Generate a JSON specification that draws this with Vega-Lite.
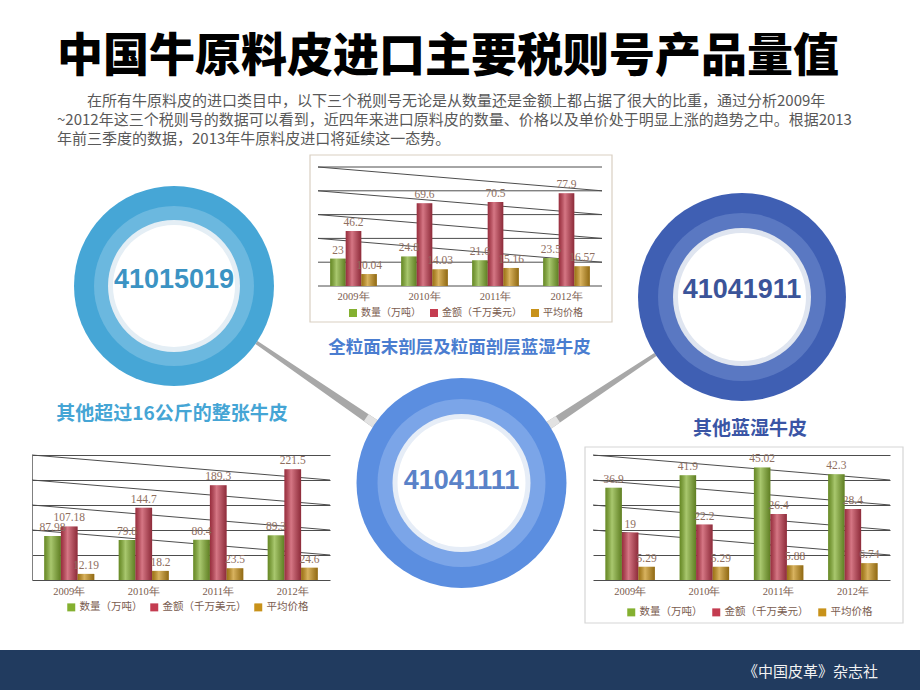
{
  "$schema": "https://vega.github.io/schema/vega-lite/v6.json",
  "background": "white",
  "padding": {"left": 0, "top": 34, "right": 0, "bottom": 0},
  "autosize": {"type": "pad"},
  "config": {
    "view": {"stroke": null},
    "font": "Noto Sans CJK SC"
  },
  "title": {
    "text": "中国牛原料皮进口主要税则号产品量值",
    "subtitle": [
      "\u200b\u3000\u3000在所有牛原料皮的进口类目中，以下三个税则号无论是从数量还是金额上都占据了很大的比重，通过分析2009年",
      "~2012年这三个税则号的数据可以看到，近四年来进口原料皮的数量、价格以及单价处于明显上涨的趋势之中。根据2013",
      "年前三季度的数据，2013年牛原料皮进口将延续这一态势。"
    ],
    "anchor": "start",
    "frame": "group",
    "dx": 57,
    "offset": 6,
    "font": "Noto Sans CJK SC",
    "fontSize": 46,
    "fontWeight": 900,
    "color": "#000000",
    "subtitleFont": "Noto Sans CJK SC",
    "subtitleFontSize": 15,
    "subtitleColor": "#595959",
    "subtitleLineHeight": 19,
    "subtitlePadding": 13
  },
  "datasets": {
    "top": [
      {"year": "2009年", "series": "数量（万吨）", "value": 23},
      {"year": "2009年", "series": "金额（千万美元）", "value": 46.2},
      {"year": "2009年", "series": "平均价格", "value": 10.04},
      {"year": "2010年", "series": "数量（万吨）", "value": 24.8},
      {"year": "2010年", "series": "金额（千万美元）", "value": 69.6},
      {"year": "2010年", "series": "平均价格", "value": 14.03},
      {"year": "2011年", "series": "数量（万吨）", "value": 21.6},
      {"year": "2011年", "series": "金额（千万美元）", "value": 70.5},
      {"year": "2011年", "series": "平均价格", "value": 15.16},
      {"year": "2012年", "series": "数量（万吨）", "value": 23.5},
      {"year": "2012年", "series": "金额（千万美元）", "value": 77.9},
      {"year": "2012年", "series": "平均价格", "value": 16.57}
    ],
    "left": [
      {"year": "2009年", "series": "数量（万吨）", "value": 87.98},
      {"year": "2009年", "series": "金额（千万美元）", "value": 107.18},
      {"year": "2009年", "series": "平均价格", "value": 12.19},
      {"year": "2010年", "series": "数量（万吨）", "value": 79.8},
      {"year": "2010年", "series": "金额（千万美元）", "value": 144.7},
      {"year": "2010年", "series": "平均价格", "value": 18.2},
      {"year": "2011年", "series": "数量（万吨）", "value": 80.4},
      {"year": "2011年", "series": "金额（千万美元）", "value": 189.3},
      {"year": "2011年", "series": "平均价格", "value": 23.5},
      {"year": "2012年", "series": "数量（万吨）", "value": 89.3},
      {"year": "2012年", "series": "金额（千万美元）", "value": 221.5},
      {"year": "2012年", "series": "平均价格", "value": 24.6}
    ],
    "right": [
      {"year": "2009年", "series": "数量（万吨）", "value": 36.9},
      {"year": "2009年", "series": "金额（千万美元）", "value": 19},
      {"year": "2009年", "series": "平均价格", "value": 5.29},
      {"year": "2010年", "series": "数量（万吨）", "value": 41.9},
      {"year": "2010年", "series": "金额（千万美元）", "value": 22.2},
      {"year": "2010年", "series": "平均价格", "value": 5.29},
      {"year": "2011年", "series": "数量（万吨）", "value": 45.02},
      {"year": "2011年", "series": "金额（千万美元）", "value": 26.4},
      {"year": "2011年", "series": "平均价格", "value": 5.88},
      {"year": "2012年", "series": "数量（万吨）", "value": 42.3},
      {"year": "2012年", "series": "金额（千万美元）", "value": 28.4},
      {"year": "2012年", "series": "平均价格", "value": 6.74}
    ],
    "diagTop": [
      {"end": "起", "v": 0, "k": "g0"}, {"end": "止", "v": 0, "k": "g0"},
      {"end": "起", "v": 20, "k": "g1"}, {"end": "止", "v": 20, "k": "g1"},
      {"end": "起", "v": 40, "k": "g2"}, {"end": "止", "v": 40, "k": "g2"},
      {"end": "起", "v": 60, "k": "g3"}, {"end": "止", "v": 60, "k": "g3"},
      {"end": "起", "v": 80, "k": "g4"}, {"end": "止", "v": 80, "k": "g4"},
      {"end": "起", "v": 100, "k": "g5"}, {"end": "止", "v": 100, "k": "g5"},
      {"end": "起", "v": 100, "k": "d1"}, {"end": "止", "v": 80, "k": "d1"},
      {"end": "起", "v": 80, "k": "d2"}, {"end": "止", "v": 60, "k": "d2"},
      {"end": "起", "v": 60, "k": "d3"}, {"end": "止", "v": 40, "k": "d3"},
      {"end": "起", "v": 40, "k": "d4"}, {"end": "止", "v": 20, "k": "d4"}
    ],
    "diagLeft": [
      {"end": "起", "v": 250, "k": "d1"}, {"end": "止", "v": 200, "k": "d1"},
      {"end": "起", "v": 200, "k": "d2"}, {"end": "止", "v": 150, "k": "d2"},
      {"end": "起", "v": 150, "k": "d3"}, {"end": "止", "v": 100, "k": "d3"},
      {"end": "起", "v": 100, "k": "d4"}, {"end": "止", "v": 50, "k": "d4"}
    ],
    "diagRight": [
      {"end": "起", "v": 50, "k": "d1"}, {"end": "止", "v": 40, "k": "d1"},
      {"end": "起", "v": 40, "k": "d2"}, {"end": "止", "v": 30, "k": "d2"},
      {"end": "起", "v": 30, "k": "d3"}, {"end": "止", "v": 20, "k": "d3"},
      {"end": "起", "v": 20, "k": "d4"}, {"end": "止", "v": 10, "k": "d4"}
    ]
  },
  "columns": 5,
  "align": "each",
  "bounds": "flush",
  "spacing": {"row": 28, "column": 0},
  "resolve": {"scale": {"color": "independent", "xOffset": "independent"}, "legend": {"color": "independent"}},
  "concat": [
    {"width": 32, "height": 10, "data": {"values": []}, "mark": "point"},
    {
      "width": 284, "height": 238,
      "data": {"values": [{"code": "41015019", "name": "其他超过16公斤的整张牛皮"}]},
      "layer": [
        {"mark": {"type": "arc", "theta": 2.154, "theta2": 2.189, "radius": 244, "radius2": 100, "color": "#a8a8a8"}, "encoding": {}},
        {"mark": {"type": "arc", "theta": 2.154, "theta2": 2.189, "radius": 244, "radius2": 233, "color": "#e2e2e2"}, "encoding": {}},
        {"mark": {"type": "arc", "theta": 0, "theta2": 6.2832, "radius": 100, "color": "#46a6d6"}, "encoding": {}},
        {"mark": {"type": "arc", "theta": 0, "theta2": 6.2832, "radius": 80, "color": "#6bb8df"}, "encoding": {}},
        {"mark": {"type": "arc", "theta": 0, "theta2": 6.2832, "radius": 66, "color": "#e4eef5"}, "encoding": {}},
        {"mark": {"type": "arc", "theta": 0, "theta2": 6.2832, "radius": 61, "color": "#ffffff"}, "encoding": {}},
        {"mark": {"type": "text", "font": "Liberation Sans", "fontSize": 27, "fontWeight": "bold", "color": "#3b93c3", "dy": -6}, "encoding": {"text": {"field": "code"}}},
        {"mark": {"type": "text", "font": "Noto Sans CJK SC", "fontSize": 19, "fontWeight": "bold", "color": "#45a5d5", "dx": -2, "dy": 128, "baseline": "middle"}, "encoding": {"text": {"field": "name"}}}
      ]
    },
    {
      "width": 263, "height": 119,
      "resolve": {"scale": {"x": "independent"}},
      "layer": [
        {
          "data": {"values": [{"a": "起", "b": "止"}]},
          "mark": {"type": "rect", "filled": false, "stroke": "#d9cfc2", "strokeWidth": 1.2, "xOffset": -8, "x2Offset": 10, "yOffset": -12, "y2Offset": 36},
          "encoding": {
            "x": {"field": "a", "type": "nominal", "scale": {"type": "point", "padding": 0, "domain": ["起", "止"], "range": [-12, 272]}, "axis": null},
            "x2": {"field": "b"},
            "y": {"datum": 100, "type": "quantitative", "scale": {"domain": [0, 100]}, "axis": null},
            "y2": {"datum": 0}
          }
        },
        {
          "data": {"name": "diagTop"},
          "mark": {"type": "line", "color": "#4d4d4d", "strokeWidth": 1},
          "encoding": {
            "x": {"field": "end", "type": "nominal", "scale": {"type": "point", "padding": 0, "domain": ["起", "止"], "range": [-12, 272]}, "axis": null},
            "y": {"field": "v", "type": "quantitative", "scale": {"domain": [0, 100]}, "axis": null},
            "detail": {"field": "k", "type": "nominal"}
          }
        },
        {
          "data": {"name": "top"},
          "encoding": {
            "x": {"field": "year", "type": "nominal", "title": null, "scale": {"paddingInner": 0, "paddingOuter": 0, "range": [-12, 272]},
              "axis": {"labelAngle": 0, "ticks": false, "tickSize": 0, "domain": false, "grid": false, "labelPadding": 5, "labelFontSize": 10.5, "labelColor": "#7a5c4f", "labelFont": "Liberation Serif"}},
            "xOffset": {"field": "series", "type": "nominal", "sort": ["数量（万吨）", "金额（千万美元）", "平均价格"], "scale": {"paddingInner": 0, "paddingOuter": 0.78}},
            "y": {"field": "value", "type": "quantitative", "scale": {"domain": [0, 100]}, "axis": null}
          },
          "layer": [
            {
              "mark": {"type": "bar"},
              "encoding": {
                "color": {"field": "series", "type": "nominal", "sort": ["数量（万吨）", "金额（千万美元）", "平均价格"],
                  "scale": {"domain": ["数量（万吨）", "金额（千万美元）", "平均价格"], "range": ["#84b030", "#c43c50", "#c8921a"]},
                  "legend": {"title": null, "orient": "none", "legendX": 18, "legendY": 141, "direction": "horizontal", "symbolType": "square", "symbolSize": 64, "labelFontSize": 10, "labelColor": "#7a5c4f", "labelFont": "Noto Sans CJK SC", "columnPadding": 8, "labelOffset": 3}}
              }
            },
            {
              "mark": {"type": "bar", "color": {"gradient": "linear", "x1": 0, "x2": 1, "y1": 0, "y2": 0,
                "stops": [{"offset": 0, "color": "rgba(0,0,0,0.22)"}, {"offset": 0.4, "color": "rgba(255,255,255,0.3)"}, {"offset": 1, "color": "rgba(0,0,0,0.28)"}]}}
            },
            {
              "mark": {"type": "text", "baseline": "bottom", "dy": -3, "fontSize": 11.5, "font": "Liberation Serif", "color": "#8e6e60"},
              "encoding": {"text": {"field": "value", "type": "nominal"}}
            }
          ]
        },
        {
          "data": {"values": [{"name": "全粒面末剖层及粒面剖层蓝湿牛皮"}]},
          "mark": {"type": "text", "font": "Noto Sans CJK SC", "fontSize": 17.5, "fontWeight": "bold", "color": "#4a7dd0", "dx": -2, "dy": 121, "baseline": "middle"},
          "encoding": {"text": {"field": "name"}}
        }
      ]
    },
    {
      "width": 298, "height": 260,
      "data": {"values": [{"code": "41041911", "name": "其他蓝湿牛皮"}]},
      "layer": [
        {"mark": {"type": "arc", "theta": 4.109, "theta2": 4.144, "radius": 232, "radius2": 104, "color": "#a8a8a8"}, "encoding": {}},
        {"mark": {"type": "arc", "theta": 4.109, "theta2": 4.144, "radius": 232, "radius2": 221, "color": "#e2e2e2"}, "encoding": {}},
        {"mark": {"type": "arc", "theta": 0, "theta2": 6.2832, "radius": 104, "color": "#3f5fb3"}, "encoding": {}},
        {"mark": {"type": "arc", "theta": 0, "theta2": 6.2832, "radius": 84, "color": "#5a78c2"}, "encoding": {}},
        {"mark": {"type": "arc", "theta": 0, "theta2": 6.2832, "radius": 69, "color": "#dfe5f0"}, "encoding": {}},
        {"mark": {"type": "arc", "theta": 0, "theta2": 6.2832, "radius": 64, "color": "#ffffff"}, "encoding": {}},
        {"mark": {"type": "text", "font": "Liberation Sans", "fontSize": 27, "fontWeight": "bold", "color": "#3b5499", "dy": -7}, "encoding": {"text": {"field": "code"}}},
        {"mark": {"type": "text", "font": "Noto Sans CJK SC", "fontSize": 19, "fontWeight": "bold", "color": "#3a55a5", "dx": 8, "dy": 132, "baseline": "middle"}, "encoding": {"text": {"field": "name"}}}
      ]
    },
    {"width": 28, "height": 10, "data": {"values": []}, "mark": "point"},
    {"width": 32, "height": 10, "data": {"values": []}, "mark": "point"},
    {
      "width": 298, "height": 125,
      "resolve": {"scale": {"x": "independent"}, "axis": {"y": "independent"}},
      "layer": [
        {
          "data": {"name": "diagLeft"},
          "mark": {"type": "line", "color": "#4d4d4d", "strokeWidth": 1},
          "encoding": {
            "x": {"field": "end", "type": "nominal", "scale": {"type": "point", "padding": 0, "domain": ["起", "止"]}, "axis": null},
            "y": {"field": "v", "type": "quantitative", "scale": {"domain": [0, 250]}, "axis": null},
            "detail": {"field": "k", "type": "nominal"}
          }
        },
        {
          "data": {"name": "left"},
          "encoding": {
            "x": {"field": "year", "type": "nominal", "title": null, "scale": {"paddingInner": 0, "paddingOuter": 0},
              "axis": {"labelAngle": 0, "ticks": false, "tickSize": 0, "domain": false, "grid": false, "labelPadding": 6, "labelFontSize": 10.5, "labelColor": "#7a5c4f", "labelFont": "Liberation Serif"}},
            "xOffset": {"field": "series", "type": "nominal", "sort": ["数量（万吨）", "金额（千万美元）", "平均价格"], "scale": {"paddingInner": 0, "paddingOuter": 0.73}},
            "y": {"field": "value", "type": "quantitative", "scale": {"domain": [0, 250]},
              "axis": {"title": null, "grid": true, "gridColor": "#4d4d4d", "gridWidth": 1, "labels": false, "ticks": false, "domain": true, "domainColor": "#808080", "values": [0, 50, 100, 150, 200, 250]}}
          },
          "layer": [
            {
              "mark": {"type": "bar"},
              "encoding": {
                "color": {"field": "series", "type": "nominal", "sort": ["数量（万吨）", "金额（千万美元）", "平均价格"],
                  "scale": {"domain": ["数量（万吨）", "金额（千万美元）", "平均价格"], "range": ["#84b030", "#c43c50", "#c8921a"]},
                  "legend": {"title": null, "orient": "none", "legendX": 34, "legendY": 147, "direction": "horizontal", "symbolType": "square", "symbolSize": 64, "labelFontSize": 10.5, "labelColor": "#7a5c4f", "labelFont": "Noto Sans CJK SC", "columnPadding": 6, "labelOffset": 3}}
              }
            },
            {
              "mark": {"type": "bar", "color": {"gradient": "linear", "x1": 0, "x2": 1, "y1": 0, "y2": 0,
                "stops": [{"offset": 0, "color": "rgba(0,0,0,0.22)"}, {"offset": 0.4, "color": "rgba(255,255,255,0.3)"}, {"offset": 1, "color": "rgba(0,0,0,0.28)"}]}}
            },
            {
              "mark": {"type": "text", "baseline": "bottom", "dy": -3, "fontSize": 11.5, "font": "Liberation Serif", "color": "#8e6e60"},
              "encoding": {"text": {"field": "value", "type": "nominal"}}
            }
          ]
        }
      ]
    },
    {
      "width": 263, "height": 167,
      "data": {"values": [{"code": "41041111"}]},
      "layer": [
        {"mark": {"type": "arc", "theta": 0, "theta2": 6.2832, "radius": 105, "color": "#5b8ee0", "yOffset": -55.5}, "encoding": {}},
        {"mark": {"type": "arc", "theta": 0, "theta2": 6.2832, "radius": 84, "color": "#7ba5e8", "yOffset": -55.5}, "encoding": {}},
        {"mark": {"type": "arc", "theta": 0, "theta2": 6.2832, "radius": 69, "color": "#e6edf7", "yOffset": -55.5}, "encoding": {}},
        {"mark": {"type": "arc", "theta": 0, "theta2": 6.2832, "radius": 64, "color": "#ffffff", "yOffset": -55.5}, "encoding": {}},
        {"mark": {"type": "text", "font": "Liberation Sans", "fontSize": 27, "fontWeight": "bold", "color": "#5a82c8", "dy": -58}, "encoding": {"text": {"field": "code"}}}
      ]
    },
    {
      "width": 297, "height": 125,
      "resolve": {"scale": {"x": "independent"}, "axis": {"y": "independent"}},
      "layer": [
        {
          "data": {"values": [{"a": "起", "b": "止"}]},
          "mark": {"type": "rect", "filled": false, "stroke": "#d6d6d6", "strokeWidth": 1.2, "xOffset": -8, "x2Offset": 13, "yOffset": -8, "y2Offset": 43},
          "encoding": {
            "x": {"field": "a", "type": "nominal", "scale": {"type": "point", "padding": 0, "domain": ["起", "止"]}, "axis": null},
            "x2": {"field": "b"},
            "y": {"datum": 50, "type": "quantitative", "scale": {"domain": [0, 50]}, "axis": null},
            "y2": {"datum": 0}
          }
        },
        {
          "data": {"name": "diagRight"},
          "mark": {"type": "line", "color": "#4d4d4d", "strokeWidth": 1},
          "encoding": {
            "x": {"field": "end", "type": "nominal", "scale": {"type": "point", "padding": 0, "domain": ["起", "止"]}, "axis": null},
            "y": {"field": "v", "type": "quantitative", "scale": {"domain": [0, 50]}, "axis": null},
            "detail": {"field": "k", "type": "nominal"}
          }
        },
        {
          "data": {"name": "right"},
          "encoding": {
            "x": {"field": "year", "type": "nominal", "title": null, "scale": {"paddingInner": 0, "paddingOuter": 0},
              "axis": {"labelAngle": 0, "ticks": false, "tickSize": 0, "domain": false, "grid": false, "labelPadding": 6, "labelFontSize": 10.5, "labelColor": "#7a5c4f", "labelFont": "Liberation Serif"}},
            "xOffset": {"field": "series", "type": "nominal", "sort": ["数量（万吨）", "金额（千万美元）", "平均价格"], "scale": {"paddingInner": 0, "paddingOuter": 0.75}},
            "y": {"field": "value", "type": "quantitative", "scale": {"domain": [0, 50]},
              "axis": {"title": null, "grid": true, "gridColor": "#4d4d4d", "gridWidth": 1, "labels": false, "ticks": false, "domain": false, "values": [0, 10, 20, 30, 40, 50]}}
          },
          "layer": [
            {
              "mark": {"type": "bar"},
              "encoding": {
                "color": {"field": "series", "type": "nominal", "sort": ["数量（万吨）", "金额（千万美元）", "平均价格"],
                  "scale": {"domain": ["数量（万吨）", "金额（千万美元）", "平均价格"], "range": ["#84b030", "#c43c50", "#c8921a"]},
                  "legend": {"title": null, "orient": "none", "legendX": 33, "legendY": 152, "direction": "horizontal", "symbolType": "square", "symbolSize": 64, "labelFontSize": 10.5, "labelColor": "#7a5c4f", "labelFont": "Noto Sans CJK SC", "columnPadding": 8, "labelOffset": 3}}
              }
            },
            {
              "mark": {"type": "bar", "color": {"gradient": "linear", "x1": 0, "x2": 1, "y1": 0, "y2": 0,
                "stops": [{"offset": 0, "color": "rgba(0,0,0,0.22)"}, {"offset": 0.4, "color": "rgba(255,255,255,0.3)"}, {"offset": 1, "color": "rgba(0,0,0,0.28)"}]}}
            },
            {
              "mark": {"type": "text", "baseline": "bottom", "dy": -3, "fontSize": 11.5, "font": "Liberation Serif", "color": "#8e6e60"},
              "encoding": {"text": {"field": "value", "type": "nominal"}}
            }
          ]
        }
      ]
    },
    {"width": 28, "height": 10, "data": {"values": []}, "mark": "point"},
    {"width": 32, "height": 40, "data": {"values": [{}]}, "mark": {"type": "rect", "color": "#213b5f"}, "encoding": {}},
    {"width": 298, "height": 40, "data": {"values": [{}]}, "mark": {"type": "rect", "color": "#213b5f"}, "encoding": {}},
    {"width": 263, "height": 40, "data": {"values": [{}]}, "mark": {"type": "rect", "color": "#213b5f"}, "encoding": {}},
    {
      "width": 298, "height": 40,
      "data": {"values": [{"label": "《中国皮革》杂志社"}]},
      "layer": [
        {"mark": {"type": "rect", "color": "#213b5f"}, "encoding": {}},
        {"mark": {"type": "text", "align": "right", "dx": 136, "dy": 2, "fontSize": 15, "color": "#f2f2f2", "font": "Noto Sans CJK SC"}, "encoding": {"text": {"field": "label"}}}
      ]
    },
    {"width": 29, "height": 40, "data": {"values": [{}]}, "mark": {"type": "rect", "color": "#213b5f"}, "encoding": {}}
  ]
}
